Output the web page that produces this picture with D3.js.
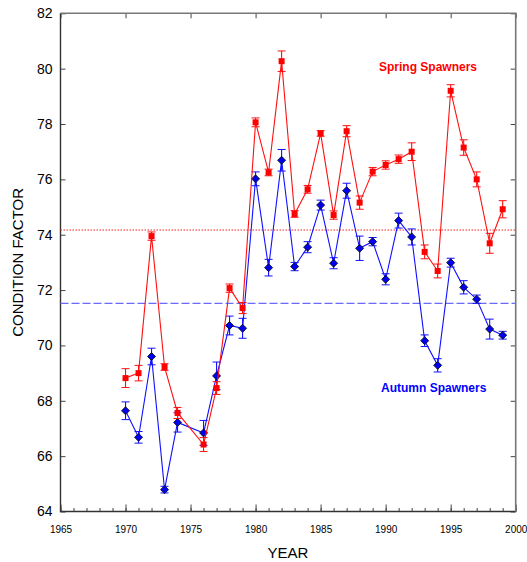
<!DOCTYPE html>
<html>
<head>
<meta charset="utf-8">
<script src="https://cdn.jsdelivr.net/npm/d3@7"></script>
<style>
  body { margin: 0; background: #fff; }
  svg { display: block; font-family: "Liberation Sans", Arial, sans-serif; }
</style>
</head>
<body>
<svg width="527" height="562"></svg>
<script>
// data (1975 missing)
var years = [1970, 1971, 1972, 1973, 1974, 1976, 1977, 1978, 1979, 1980,
  1981, 1982, 1983, 1984, 1985, 1986, 1987, 1988, 1989, 1990,
  1991, 1992, 1993, 1994, 1995, 1996, 1997, 1998, 1999];

var springVals = [68.82, 69.0, 73.95, 69.22, 67.56, 66.42, 68.46, 72.07, 71.35, 78.06,
  76.25, 80.27, 74.75, 75.64, 77.66, 74.71, 77.74, 75.16, 76.28, 76.52,
  76.73, 77.0, 73.38, 72.69, 79.2, 77.15, 76.0, 73.69, 74.92];
var springErr = [0.34, 0.28, 0.15, 0.12, 0.2, 0.25, 0.23, 0.15, 0.2, 0.16,
  0.12, 0.37, 0.12, 0.14, 0.1, 0.15, 0.2, 0.24, 0.15, 0.15,
  0.15, 0.32, 0.25, 0.25, 0.22, 0.28, 0.27, 0.36, 0.31];

var autumnVals = [67.64, 66.68, 69.6, 64.79, 67.22, 66.84, 68.9, 70.72, 70.62, 76.02,
  72.81, 76.69, 72.85, 73.55, 75.07, 72.97, 75.59, 73.51, 73.75, 72.39,
  74.51, 73.92, 70.17, 69.28, 72.99, 72.1, 71.67, 70.59, 70.37];
var autumnErr = [0.32, 0.21, 0.3, 0.12, 0.35, 0.45, 0.5, 0.34, 0.36, 0.25,
  0.3, 0.39, 0.15, 0.2, 0.18, 0.2, 0.27, 0.44, 0.15, 0.2,
  0.27, 0.29, 0.21, 0.24, 0.16, 0.24, 0.15, 0.36, 0.14];

var springMean = 74.17;
var autumnMean = 71.52;

var xTicks = [1965, 1970, 1975, 1980, 1985, 1990, 1995, 2000];
var yTicks = [64, 66, 68, 70, 72, 74, 76, 78, 80, 82];

var svg = d3.select("svg");
// note: "top" is a reserved window global, so use plot* names
var plotL = 60.5, plotR = 515.7, plotT = 13.3, plotB = 511.5;

var x = d3.scaleLinear().domain([1965, 2000]).range([plotL, plotR]);
var y = d3.scaleLinear().domain([64, 82]).range([plotB, plotT]);

var spring = years.map(function (yr, i) { return { year: yr, v: springVals[i], e: springErr[i] }; });
var autumn = years.map(function (yr, i) { return { year: yr, v: autumnVals[i], e: autumnErr[i] }; });

// axes: ticks point inward
var axisColor = "#444";
svg.append("g")
  .attr("transform", "translate(0," + plotB + ")")
  .call(d3.axisBottom(x).tickValues(d3.range(1965, 2001)).tickSize(-3.5).tickFormat(""))
  .call(function (g) { g.select(".domain").remove(); g.selectAll("line").attr("stroke", axisColor); });

svg.append("g")
  .attr("class", "xaxis")
  .attr("transform", "translate(0," + plotB + ")")
  .call(d3.axisBottom(x).tickValues(xTicks).tickSize(-7).tickPadding(14).tickFormat(d3.format("d")))
  .call(function (g) {
    g.select(".domain").remove();
    g.selectAll("line").attr("stroke", axisColor);
    g.selectAll("text").attr("font-size", 10).attr("fill", "#000");
  });

svg.append("g")
  .attr("transform", "translate(0," + plotT + ")")
  .call(d3.axisTop(x).tickValues(xTicks).tickSize(-5).tickFormat(""))
  .call(function (g) { g.select(".domain").remove(); g.selectAll("line").attr("stroke", axisColor); });

svg.append("g")
  .attr("transform", "translate(" + plotL + ",0)")
  .call(d3.axisLeft(y).tickValues(yTicks).tickSize(-5).tickPadding(8))
  .call(function (g) {
    g.select(".domain").remove();
    g.selectAll("line").attr("stroke", axisColor);
    g.selectAll("text").attr("font-size", 14).attr("fill", "#000");
  });

svg.append("g")
  .attr("transform", "translate(" + plotR + ",0)")
  .call(d3.axisRight(y).tickValues(yTicks).tickSize(-5).tickFormat(""))
  .call(function (g) { g.select(".domain").remove(); g.selectAll("line").attr("stroke", axisColor); });

// frame
svg.append("path")
  .attr("d", "M" + plotL + "," + plotT + "V" + plotB + "H" + plotR)
  .attr("fill", "none").attr("stroke", "#333").attr("stroke-width", 1.4);
svg.append("path")
  .attr("d", "M" + plotL + "," + plotT + "H" + plotR + "V" + plotB)
  .attr("fill", "none").attr("stroke", "#777").attr("stroke-width", 1.6);

// axis titles
svg.append("text")
  .attr("x", 288).attr("y", 558)
  .attr("text-anchor", "middle").attr("font-size", 15)
  .text("YEAR");
svg.append("text")
  .attr("transform", "translate(23," + ((plotT + plotB) / 2) + ") rotate(-90)")
  .attr("text-anchor", "middle").attr("font-size", 15)
  .text("CONDITION FACTOR");

// mean lines
svg.append("line")
  .attr("x1", plotL).attr("x2", plotR)
  .attr("y1", y(springMean)).attr("y2", y(springMean))
  .attr("stroke", "#ff2020").attr("stroke-width", 1).attr("stroke-dasharray", "1.5,1.5");
svg.append("line")
  .attr("x1", plotL).attr("x2", plotR)
  .attr("y1", y(autumnMean)).attr("y2", y(autumnMean))
  .attr("stroke", "#6a6aff").attr("stroke-width", 1.4).attr("stroke-dasharray", "8,3");

var line = d3.line()
  .x(function (d) { return x(d.year); })
  .y(function (d) { return y(d.v); });

function drawSeries(data, color, cls) {
  var g = svg.append("g").attr("class", cls);
  g.append("path")
    .datum(data)
    .attr("d", line)
    .attr("fill", "none")
    .attr("stroke", color)
    .attr("stroke-width", 1.1);

  var eb = g.selectAll(".err").data(data).enter().append("g");
  eb.append("line")
    .attr("x1", function (d) { return x(d.year); })
    .attr("x2", function (d) { return x(d.year); })
    .attr("y1", function (d) { return y(d.v - d.e); })
    .attr("y2", function (d) { return y(d.v + d.e); })
    .attr("stroke", color).attr("stroke-width", 1.1);
  [-1, 1].forEach(function (s) {
    eb.append("line")
      .attr("x1", function (d) { return x(d.year) - 4; })
      .attr("x2", function (d) { return x(d.year) + 4; })
      .attr("y1", function (d) { return y(d.v + s * d.e); })
      .attr("y2", function (d) { return y(d.v + s * d.e); })
      .attr("stroke", color).attr("stroke-width", 1);
  });
  return g;
}

var gA = drawSeries(autumn, "#1010ff", "autumn");
var gS = drawSeries(spring, "#ff1010", "spring");

gS.selectAll(".mk").data(spring).enter().append("rect")
  .attr("x", function (d) { return x(d.year) - 3; })
  .attr("y", function (d) { return y(d.v) - 3; })
  .attr("width", 6).attr("height", 6)
  .attr("fill", "#ff0000");

gA.selectAll(".mk").data(autumn).enter().append("path")
  .attr("transform", function (d) { return "translate(" + x(d.year) + "," + y(d.v) + ")"; })
  .attr("d", "M0,-4L4,0L0,4L-4,0Z")
  .attr("fill", "#0000ee")
  .attr("stroke", "#111").attr("stroke-width", 0.9);

// series labels
svg.append("text")
  .attr("x", 379).attr("y", 71)
  .attr("font-size", 12).attr("font-weight", "bold").attr("fill", "#ff0000")
  .text("Spring Spawners");
svg.append("text")
  .attr("x", 381).attr("y", 392)
  .attr("font-size", 12).attr("font-weight", "bold").attr("fill", "#0000ff")
  .text("Autumn Spawners");
</script>
</body>
</html>
